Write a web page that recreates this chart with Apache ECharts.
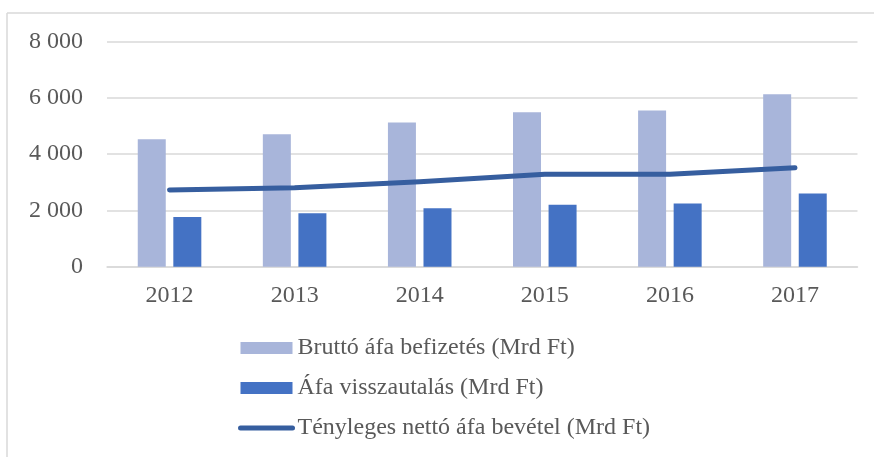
<!DOCTYPE html>
<html>
<head>
<meta charset="utf-8">
<script src="https://cdn.jsdelivr.net/npm/echarts@6/dist/echarts.min.js"></script>
<style>
  html, body { margin: 0; padding: 0; background: #fff; }
  #chart { width: 874px; height: 457px; }
</style>
</head>
<body>
<div id="chart"></div>
<script>
// adatok (Mrd Ft)
const years = ['2012', '2013', '2014', '2015', '2016', '2017']
const brutto = [4530, 4710, 5130, 5490, 5550, 6130]
const visszautalas = [1770, 1900, 2080, 2200, 2250, 2600]
const netto = [2730, 2810, 3020, 3290, 3290, 3520]

const names = [
  'Bruttó áfa befizetés (Mrd Ft)',
  'Áfa visszautalás (Mrd Ft)',
  'Tényleges nettó áfa bevétel (Mrd Ft)'
]
const colors = ['#A8B5DA', '#4472C4', '#365E9F']
const font = '"Liberation Serif", "Times New Roman", serif'

const chart = echarts.init(document.getElementById('chart'))

chart.setOption({
  color: colors,
  animation: false,
  textStyle: { fontFamily: font },
  grid: { left: 107, right: 16.5, top: 41.7, bottom: 190.3 },
  // keret (bal és felső széle látszik)
  graphic: [
    { type: 'line', shape: { x1: 7, y1: 13, x2: 874, y2: 13 }, style: { stroke: '#D9D9D9', lineWidth: 1.5 } },
    { type: 'line', shape: { x1: 7, y1: 13, x2: 7, y2: 457 }, style: { stroke: '#D9D9D9', lineWidth: 1.5 } }
  ],
  legend: {
    orient: 'vertical',
    left: 233,
    top: 331,
    itemWidth: 52,
    itemHeight: 12,
    itemGap: 16,
    lineStyle: { width: 5, cap: 'round' },
    textStyle: { fontFamily: font, fontSize: 24, color: '#595959', lineHeight: 24 },
    data: [
      { name: names[0], icon: 'rect' },
      { name: names[1], icon: 'rect' },
      { name: names[2], itemStyle: { opacity: 0 } }
    ]
  },
  xAxis: {
    type: 'category',
    data: years,
    axisTick: { show: false },
    axisLine: { lineStyle: { color: '#D9D9D9', width: 1.5 } },
    axisLabel: { fontFamily: font, fontSize: 24, color: '#595959', margin: 17 }
  },
  yAxis: {
    type: 'value',
    min: 0,
    max: 8000,
    interval: 2000,
    axisLine: { show: false },
    axisTick: { show: false },
    splitLine: { lineStyle: { color: '#D9D9D9', width: 1.5 } },
    axisLabel: {
      fontFamily: font,
      fontSize: 24,
      color: '#595959',
      margin: 24,
      formatter: v => String(v).replace(/\B(?=(\d{3})+(?!\d))/g, ' ')
    }
  },
  series: [
    {
      name: names[0],
      type: 'bar',
      barWidth: 28,
      barGap: '27%',
      data: brutto
    },
    {
      name: names[1],
      type: 'bar',
      barWidth: 28,
      data: visszautalas
    },
    {
      name: names[2],
      type: 'line',
      symbol: 'none',
      lineStyle: { width: 5, cap: 'round', join: 'round' },
      data: netto
    }
  ]
})
</script>
</body>
</html>
